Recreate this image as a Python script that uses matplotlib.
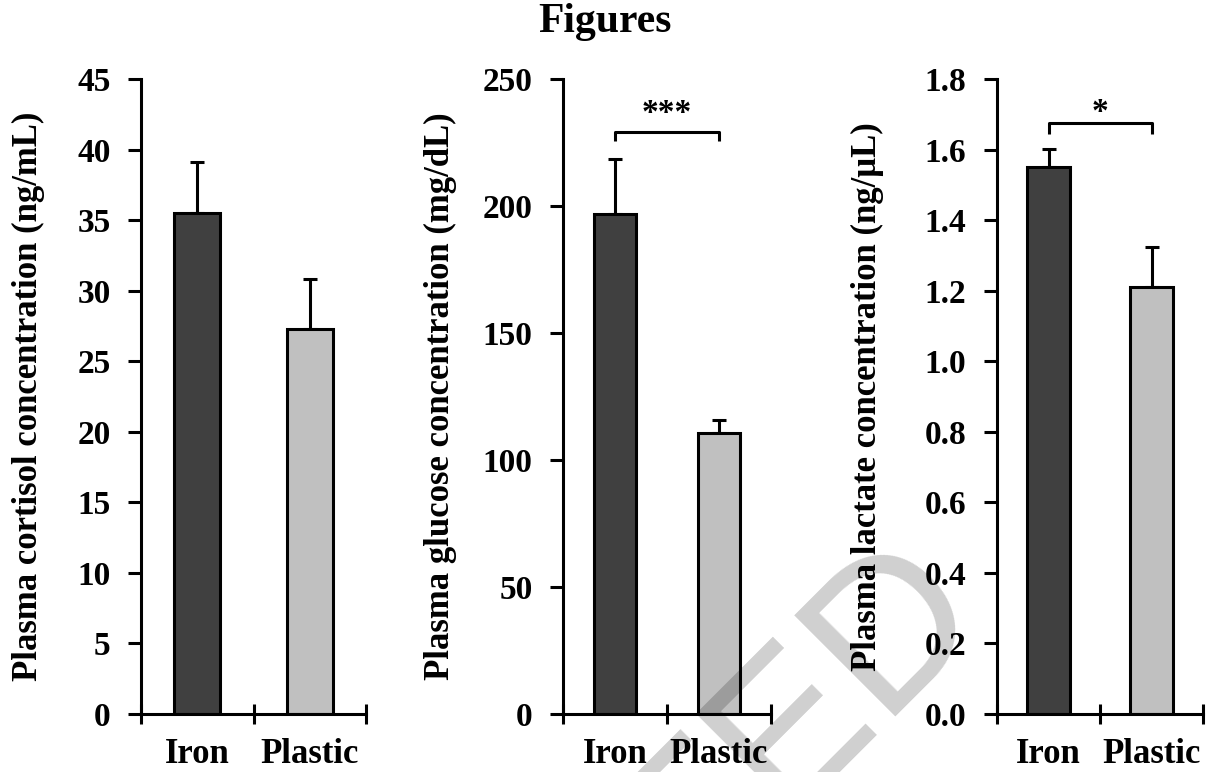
import matplotlib
matplotlib.use("Agg")
import matplotlib.pyplot as plt
import numpy as np

plt.rcParams['font.family'] = ['Liberation Serif', 'DejaVu Serif']
plt.rcParams['font.weight'] = 'bold'
plt.rcParams['axes.labelweight'] = 'bold'

groups = ["Iron", "Plastic"]

cortisol = [35.5, 27.3]
cortisol_err = [3.6, 3.5]

glucose = [196.9, 110.8]
glucose_err = [21.6, 4.8]

lactate = [1.551, 1.21]
lactate_err = [0.05, 0.115]

ylabels = ["Plasma cortisol concentration (ng/mL)",
           "Plasma glucose concentration (mg/dL)",
           "Plasma lactate concentration (ng/\u03bcL)"]
ymax = [45, 250, 1.8]
ystep = [5, 50, 0.2]
ytick_fmt = ["{:.0f}", "{:.0f}", "{:.1f}"]

# significance: (bracket height, drop, star text, star baseline)
signif = [None, (229.0, 3.5, "***", 233.0), (1.675, 0.03, "*", 1.68)]

bar_colors = ["#404040", "#c0c0c0"]

W, H = 1209, 772
fig = plt.figure(figsize=(W / 100, H / 100), dpi=100)

# axes boxes in pixels: (left, right)
boxes = [(141, 366), (563, 771), (997, 1203)]
top_px, bot_px = 79, 714
label_x = [-0.50, -0.59, -0.63]

values = [cortisol, glucose, lactate]
errors = [cortisol_err, glucose_err, lactate_err]

lw = 2.2
for i in range(3):
    l, r = boxes[i]
    ax = fig.add_axes([l / W, 1 - bot_px / H, (r - l) / W, (bot_px - top_px) / H])
    x = np.arange(len(groups))
    ax.errorbar(x, values[i], yerr=[[0, 0], errors[i]], fmt='none',
                ecolor='black', elinewidth=lw, capsize=5, capthick=lw, zorder=1)
    ax.bar(x, values[i], width=0.41, color=bar_colors, edgecolor='black',
           linewidth=lw, zorder=2)
    ax.set_xlim(-0.5, 1.5)
    ax.set_ylim(0, ymax[i])
    ax.spines['top'].set_visible(False)
    ax.spines['right'].set_visible(False)
    ax.spines['left'].set_linewidth(lw)
    ax.spines['bottom'].set_linewidth(lw)

    yt = np.arange(0, ymax[i] + ystep[i] / 2, ystep[i])
    ax.set_yticks(yt)
    ax.set_yticklabels([ytick_fmt[i].format(v) for v in yt])
    ax.tick_params(axis='y', direction='out', length=9.5, width=lw,
                   pad=12.5, labelsize=24)

    ax.set_xticks([-0.5, 0.5, 1.5])
    ax.set_xticklabels([])
    ax.tick_params(axis='x', which='major', direction='inout', length=14.5, width=lw)
    ax.set_xticks(x, minor=True)
    ax.set_xticklabels(groups, minor=True)
    ax.tick_params(axis='x', which='minor', length=0, pad=17, labelsize=25)

    ax.set_ylabel(ylabels[i], fontsize=25, fontweight='bold', va='center')
    ax.yaxis.set_label_coords(label_x[i], 0.5)

    if signif[i] is not None:
        yb, d, stars, ys = signif[i]
        ax.plot([0, 0, 1, 1], [yb - d, yb, yb, yb - d], color='black', lw=lw,
                clip_on=False, solid_capstyle='butt')
        ax.text(0.5, ys, stars, ha='center', va='baseline', fontsize=24,
                clip_on=False)

fig.text(605 / W, 1 - 32 / H, "Figures", ha='center', va='baseline',
         fontsize=30, fontweight='bold')

# faint watermark across the lower right
fig.text(986 / W, 1 - 609 / H, "RETRACTED", ha='right', va='baseline',
         rotation=45, rotation_mode='anchor', fontsize=150,
         family='Liberation Sans', fontweight='normal', color='black',
         alpha=0.19, zorder=10)

fig.savefig("out.png", dpi=100)
